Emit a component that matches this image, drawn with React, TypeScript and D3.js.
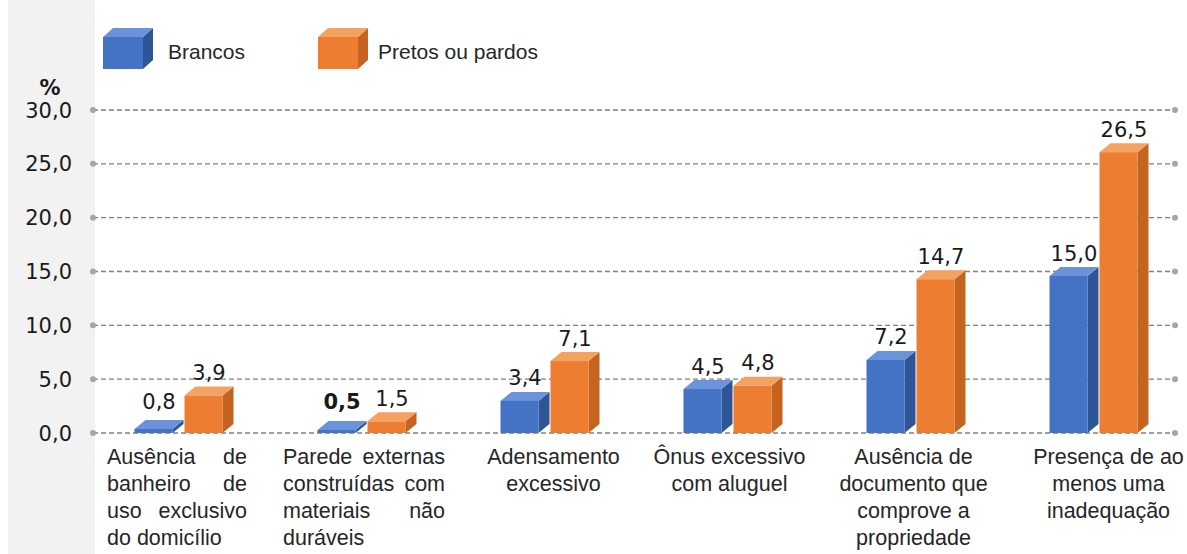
import React from "react";
import * as d3 from "d3";

const categories = [
  "Ausência de|banheiro de|uso exclusivo|do domicílio",
  "Parede externas|construídas com|materiais não|duráveis",
  "Adensamento|excessivo",
  "Ônus excessivo|com aluguel",
  "Ausência de|documento que|comprove a|propriedade",
  "Presença de ao|menos uma|inadequação",
];
const brancos = [0.8, 0.5, 3.4, 4.5, 7.2, 15.0];
const pretos = [3.9, 1.5, 7.1, 4.8, 14.7, 26.5];
const yTicks = [0, 5, 10, 15, 20, 25, 30];
const seriesNames = ["Brancos", "Pretos ou pardos"];
const boldLabels = [[false, true, false, false, false, false], [false, false, false, false, false, false]];

// layout (not data)
const W = 1187;
const H = 554;
const y0px = 433;
const y30px = 110;
const gridX0 = 93;
const gridX1 = 1175;
const barW = 38;
const dx = 11;
const dy = 9;
const justified = [
  { x0: 107, x1: 247 },
  { x0: 283, x1: 445 },
  null,
  null,
  null,
  null,
];
const centerShift = [0, 0, 4, -3, -2, 10];

const colors = [
  { front: "#4472C4", side: "#2E5596", top: "#6B93DA" },
  { front: "#ED7D31", side: "#C4641F", top: "#F4A262" },
];

const fmt = (v: number) => v.toFixed(1).replace(".", ",");

function Bar3D({ x, yTop, yBot, c }: { x: number; yTop: number; yBot: number; c: { front: string; side: string; top: string } }) {
  return (
    <g>
      <polygon
        points={`${x + barW},${yTop} ${x + barW + dx},${yTop - dy} ${x + barW + dx},${yBot - dy} ${x + barW},${yBot}`}
        fill={c.side}
      />
      <polygon
        points={`${x},${yTop} ${x + dx},${yTop - dy} ${x + barW + dx},${yTop - dy} ${x + barW},${yTop}`}
        fill={c.top}
      />
      <rect x={x} y={yTop} width={barW} height={Math.max(0, yBot - yTop)} fill={c.front} />
    </g>
  );
}

function Cube({ x, y, c }: { x: number; y: number; c: { front: string; side: string; top: string } }) {
  const w = 40, h = 32, ddx = 10, ddy = 9;
  return (
    <g>
      <polygon points={`${x + w},${y} ${x + w + ddx},${y - ddy} ${x + w + ddx},${y + h - ddy} ${x + w},${y + h}`} fill={c.side} />
      <polygon points={`${x},${y} ${x + ddx},${y - ddy} ${x + w + ddx},${y - ddy} ${x + w},${y}`} fill={c.top} />
      <rect x={x} y={y} width={w} height={h} fill={c.front} />
    </g>
  );
}

export default function App() {
  const x = d3.scaleBand<string>().domain(categories).range([92, 1190]).padding(0);
  const y = d3.scaleLinear().domain([0, 30]).range([y0px, y30px]);
  const series = [brancos, pretos];

  return (
    <svg width={W} height={H} style={{ display: "block", position: "absolute", left: 0, top: 0 }}>
      <rect x={0} y={0} width={W} height={H} fill="#ffffff" />
      <rect x={8} y={0} width={87} height={H} fill="#f2f2f2" />

      {/* legend */}
      <Cube x={103} y={37} c={colors[0]} />
      <text x={168} y={59} fontFamily="Liberation Sans, Arial, sans-serif" fontSize={21} fill="#262626">
        {seriesNames[0]}
      </text>
      <Cube x={318} y={37} c={colors[1]} />
      <text x={378} y={59} fontFamily="Liberation Sans, Arial, sans-serif" fontSize={21} fill="#262626">
        {seriesNames[1]}
      </text>

      {/* % */}
      <text x={50} y={95} textAnchor="middle" fontFamily="DejaVu Sans, Verdana, sans-serif" fontWeight="bold" fontSize={21} fill="#1a1a1a">
        %
      </text>

      {/* grid + ticks */}
      {yTicks.map((t) => (
        <g key={t}>
          <line x1={gridX0} x2={gridX1} y1={y(t)} y2={y(t)} stroke="#808080" strokeWidth={1.4} strokeDasharray="5,3" />
          <circle cx={gridX0} cy={y(t)} r={3} fill="#a6a6a6" />
          <circle cx={gridX1} cy={y(t)} r={3} fill="#a6a6a6" />
          <text x={72} y={y(t) + 7.5} textAnchor="end" fontFamily="DejaVu Sans, Verdana, sans-serif" fontSize={21} fill="#1a1a1a">
            {fmt(t)}
          </text>
        </g>
      ))}

      {/* bars */}
      {categories.map((cat, i) => {
        const c = (x(cat) as number) + x.bandwidth() / 2;
        return (
          <g key={cat}>
            {series.map((s, si) => {
              const bx = si === 0 ? c - barW - dx : c + 1;
              const v = s[i];
              const yTop = Math.min(y(v) + dy / 2, y0px - 3);
              const lx = bx + (barW + dx) / 2;
              const ly = Math.min(y(v) - 11, y0px - 24);
              return (
                <g key={si}>
                  <Bar3D x={bx} yTop={yTop} yBot={y0px} c={colors[si]} />
                  <text
                    x={lx}
                    y={ly}
                    textAnchor="middle"
                    fontFamily="DejaVu Sans, Verdana, sans-serif"
                    fontSize={21}
                    fontWeight={boldLabels[si][i] ? "bold" : "normal"}
                    fill="#1a1a1a"
                  >
                    {fmt(v)}
                  </text>
                </g>
              );
            })}
          </g>
        );
      })}

      {/* category labels */}
      {categories.map((cat, i) => {
        const c = (x(cat) as number) + x.bandwidth() / 2 + centerShift[i];
        const lines = cat.split("|");
        const j = justified[i];
        return (
          <g key={"l" + i} fontFamily="Liberation Sans, Arial, sans-serif" fontSize={21.5} fill="#262626">
            {lines.map((ln, li) => {
              const by = 464 + li * 27;
              if (j) {
                const words = ln.split(" ");
                if (li < lines.length - 1 && words.length === 2) {
                  return (
                    <g key={li}>
                      <text x={j.x0} y={by}>{words[0]}</text>
                      <text x={j.x1} y={by} textAnchor="end">{words[1]}</text>
                    </g>
                  );
                }
                return (
                  <text key={li} x={j.x0} y={by}>{ln}</text>
                );
              }
              return (
                <text key={li} x={c} y={by} textAnchor="middle">{ln}</text>
              );
            })}
          </g>
        );
      })}
    </svg>
  );
}
